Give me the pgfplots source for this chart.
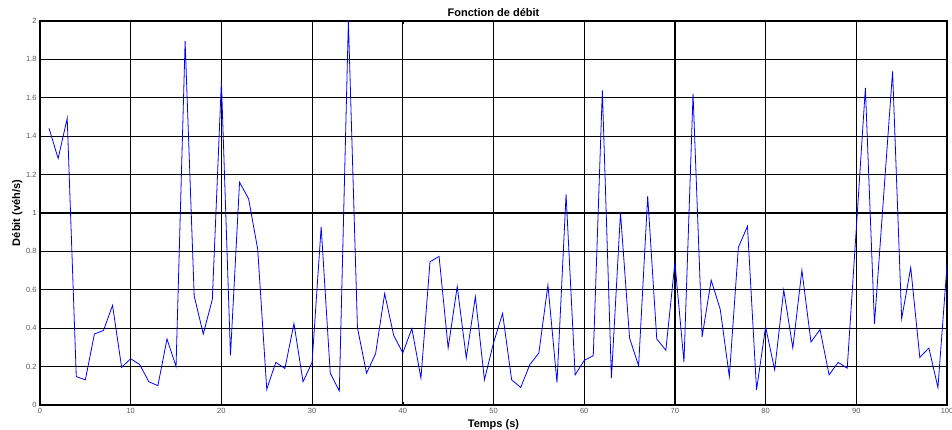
\documentclass[border=0pt]{standalone}
\usepackage{fontspec}
\setmainfont{Liberation Sans}
\usepackage{pgfplots}
\pgfplotsset{compat=1.18}
\definecolor{ticklab}{gray}{0.35}
\definecolor{flow}{RGB}{0,0,255}

\begin{document}
\begin{tikzpicture}
\begin{axis}[
  scale only axis,
  width=907pt, height=384pt,
  xmin=0, xmax=100, ymin=0, ymax=2,
  xtick={0,10,20,30,40,50,60,70,80,90,100},
  ytick={0,0.2,0.4,0.6,0.8,1,1.2,1.4,1.6,1.8,2},
  grid=major,
  major grid style={black, line width=1.2pt},
  axis line style={black, line width=1.4pt},
  tick style={black, line width=0.6pt},
  tick align=inside, major tick length=3pt,
  ticklabel style={font=\fontsize{7.5}{9}\selectfont, text=ticklab},
  /pgf/number format/assume math mode=true,
  yticklabel style={/pgf/number format/fixed},
  xlabel={Temps (s)},
  xlabel style={font=\fontsize{11}{13}\selectfont\bfseries,
    at={(axis description cs:0.5,-0.0573)}, anchor=base},
  ylabel={Débit (véh/s)},
  ylabel style={font=\fontsize{11}{13}\selectfont\bfseries,
    at={(axis description cs:-0.02205,0.5)}, anchor=base},
]
\addplot[flow, line width=0.8pt, mark=none] coordinates {
(1,1.441) (2,1.284) (3,1.493) (4,0.148) (5,0.131) (6,0.370) (7,0.388) (8,0.519) (9,0.196) (10,0.241)
(11,0.210) (12,0.121) (13,0.101) (14,0.344) (15,0.201) (16,1.895) (17,0.568) (18,0.370) (19,0.550) (20,1.686)
(21,0.259) (22,1.160) (23,1.074) (24,0.812) (25,0.082) (26,0.222) (27,0.190) (28,0.424) (29,0.121) (30,0.222)
(31,0.928) (32,0.166) (33,0.073) (34,2.000) (35,0.402) (36,0.166) (37,0.267) (38,0.580) (39,0.362) (40,0.271)
(41,0.398) (42,0.140) (43,0.746) (44,0.774) (45,0.297) (46,0.617) (47,0.245) (48,0.564) (49,0.131) (50,0.323)
(51,0.477) (52,0.131) (53,0.091) (54,0.210) (55,0.271) (56,0.624) (57,0.117) (58,1.097) (59,0.157) (60,0.232)
(61,0.257) (62,1.638) (63,0.140) (64,1.002) (65,0.349) (66,0.204) (67,1.088) (68,0.344) (69,0.285) (70,0.742)
(71,0.224) (72,1.621) (73,0.355) (74,0.650) (75,0.498) (76,0.148) (77,0.821) (78,0.931) (79,0.079) (80,0.407)
(81,0.183) (82,0.599) (83,0.297) (84,0.702) (85,0.328) (86,0.393) (87,0.157) (88,0.222) (89,0.192) (90,0.920)
(91,1.651) (92,0.423) (93,1.080) (94,1.738) (95,0.449) (96,0.716) (97,0.248) (98,0.297) (99,0.091) (100,0.728)
};
\coordinate (sw) at (rel axis cs:0,0);
\coordinate (ne) at (rel axis cs:1,1);
\coordinate (tt) at (rel axis cs:0.5,1);
\end{axis}
% chart title, baseline just above the frame
\node[font=\fontsize{11}{13}\selectfont\bfseries, anchor=base, inner sep=0pt]
  at ([yshift=4pt]tt) {Fonction de débit};
\pgfresetboundingbox
\path ([shift={(-40pt,-25pt)}]sw) rectangle ([shift={(5pt,21pt)}]ne);
\end{tikzpicture}
\end{document}
